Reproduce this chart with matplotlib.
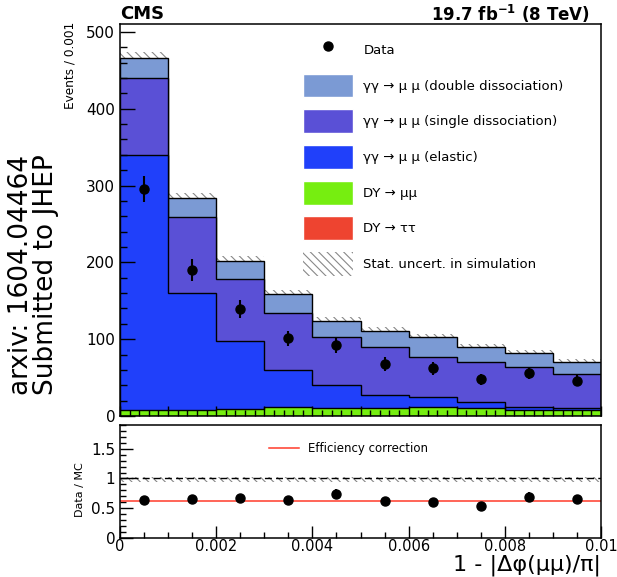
import numpy as np
import matplotlib
matplotlib.use('Agg')
import matplotlib.pyplot as plt
from matplotlib.patches import Patch
from matplotlib.lines import Line2D
from matplotlib.ticker import MultipleLocator

plt.rcParams['font.family'] = ['DejaVu Sans']
plt.rcParams['hatch.linewidth'] = 0.8
plt.rcParams['mathtext.default'] = 'regular'

# Binning (1 - |dphi|/pi)
edges = [0.0, 0.001, 0.002, 0.003, 0.004, 0.005, 0.006, 0.007, 0.008, 0.009, 0.010]
centers = [0.0005, 0.0015, 0.0025, 0.0035, 0.0045, 0.0055, 0.0065, 0.0075, 0.0085, 0.0095]

# MC components (events / 0.001)
dy_tautau = [0.3, 0.3, 0.3, 0.3, 0.3, 0.3, 0.3, 0.3, 0.3, 0.3]
dy_mumu = [8, 8, 9, 12, 10, 10, 12, 10, 7, 7]
elastic = [332, 152, 88, 47, 30, 17, 12, 8, 5, 2.5]
single_diss = [100, 99, 81, 75, 63, 62, 53, 52, 52, 45]
double_diss = [26, 25, 24, 25, 21, 21, 25, 20, 18, 16]
mc_stat = [7, 6, 6, 5, 5, 5, 5, 4, 4, 4]

# Data
data = [296, 190, 139, 101, 92, 68, 62, 48, 56, 46]
data_err = [17, 14, 12, 10, 10, 9, 8, 7, 8, 7]

# Ratio panel
ratio = [0.63, 0.66, 0.68, 0.64, 0.745, 0.627, 0.61, 0.53, 0.69, 0.655]
ratio_err = [0.04, 0.04, 0.05, 0.05, 0.08, 0.06, 0.06, 0.06, 0.08, 0.07]
eff_corr = 0.615
ratio_band = [-0.06, 0.03]

col_double = '#7b9ad4'
col_single = '#5a50d6'
col_elastic = '#2040fa'
col_dymm = '#76ee10'
col_dytt = '#ee4430'

fig = plt.figure(figsize=(6.17, 5.77), dpi=100)
ax = fig.add_axes([0.1945, 0.279, 0.7796, 0.679])
rax = fig.add_axes([0.1945, 0.0676, 0.7796, 0.196])

# Stack (cumulative, drawn from top down)
c1 = np.array(dy_tautau, dtype=float)
c2 = c1 + np.array(dy_mumu)
c3 = c2 + np.array(elastic)
c4 = c3 + np.array(single_diss)
c5 = c4 + np.array(double_diss)
err = np.array(mc_stat, dtype=float)

ax.stairs(c5 + err, edges, baseline=c5 - err, fill=True, facecolor='none',
          edgecolor='#888888', hatch='\\\\\\\\', linewidth=0, zorder=0.5)
for cum, col in [(c5, col_double), (c4, col_single), (c3, col_elastic),
                 (c2, col_dymm), (c1, col_dytt)]:
    ax.stairs(cum, edges, fill=True, facecolor=col, edgecolor='black', linewidth=1.0, zorder=1)

ax.errorbar(centers, data, yerr=data_err, fmt='o', color='black', markersize=6.5,
            elinewidth=1.5, capsize=0, zorder=3)

ax.set_xlim(0, 0.01)
ax.set_ylim(0, 510)
ax.yaxis.set_major_locator(MultipleLocator(100))
ax.yaxis.set_minor_locator(MultipleLocator(20))
ax.xaxis.set_major_locator(MultipleLocator(0.001))
ax.xaxis.set_minor_locator(MultipleLocator(0.0002))
ax.tick_params(axis='both', which='both', direction='in', top=False, right=False)
ax.tick_params(axis='y', which='major', length=11, width=1.0, labelsize=11)
ax.tick_params(axis='y', which='minor', length=5, width=1.0)
ax.tick_params(axis='x', which='major', length=7, width=1.0, labelbottom=False)
ax.tick_params(axis='x', which='minor', length=4, width=1.0)
for s in ax.spines.values():
    s.set_linewidth(1.1)

handles = [
    Line2D([], [], marker='o', color='black', linestyle='none', markersize=6.5),
    Patch(facecolor=col_double, edgecolor='white'),
    Patch(facecolor=col_single, edgecolor='white'),
    Patch(facecolor=col_elastic, edgecolor='white'),
    Patch(facecolor=col_dymm, edgecolor='white'),
    Patch(facecolor=col_dytt, edgecolor='white'),
    Patch(facecolor='white', edgecolor='#888888', hatch='\\\\\\\\', linewidth=0),
]
labels = [
    'Data',
    'γγ → μ μ (double dissociation)',
    'γγ → μ μ (single dissociation)',
    'γγ → μ μ (elastic)',
    'DY → μμ',
    'DY → ττ',
    'Stat. uncert. in simulation',
]
ax.legend(handles, labels, loc='upper left', bbox_to_anchor=(0.38, 0.965),
          frameon=False, fontsize=9.5, handlelength=3.8, handleheight=2.4,
          labelspacing=0.9, handletextpad=0.8, borderpad=0, borderaxespad=0)

fig.text(0.1945, 1 - 14 / 577, 'CMS', fontsize=13, fontweight='bold', ha='left', va='center')
fig.text(590 / 617, 1 - 14 / 577, '19.7 fb$^{-1}$ (8 TeV)', fontsize=12,
         fontweight='bold', ha='right', va='center')
fig.text(70 / 617, 1 - 22 / 577, 'Events / 0.001', rotation=90, fontsize=8.7,
         ha='center', va='top')
fig.text(34 / 617, 1 - 395 / 577, 'arxiv: 1604.04464\nSubmitted to JHEP', rotation=90,
         fontsize=19, ha='center', va='bottom', multialignment='left', linespacing=0.95)

# Ratio panel
rax.stairs(1 + np.full(10, ratio_band[1]), edges, baseline=1 + np.full(10, ratio_band[0]),
           fill=True, facecolor='none', edgecolor='#888888', hatch='\\\\\\\\', linewidth=0)
rax.axhline(1.0, color='black', linestyle='--', linewidth=1.0, dashes=(5, 3))
rax.axhline(eff_corr, color='#ff3a2a', linewidth=1.1, label='Efficiency correction')
rax.errorbar(centers, ratio, yerr=ratio_err, fmt='o', color='black', markersize=6.5,
             elinewidth=1.5, capsize=0, zorder=3)
rax.set_xlim(0, 0.01)
rax.set_ylim(0, 1.9)
rax.yaxis.set_minor_locator(MultipleLocator(0.1))
rax.xaxis.set_minor_locator(MultipleLocator(0.0005))
rax.set_yticks([0, 0.5, 1, 1.5])
rax.set_yticklabels(['0', '0.5', '1', '1.5'])
rax.set_xticks([0, 0.002, 0.004, 0.006, 0.008, 0.01])
rax.set_xticklabels(['0', '0.002', '0.004', '0.006', '0.008', '0.01'])
rax.tick_params(axis='both', which='both', direction='in', top=False, right=False)
rax.tick_params(axis='both', which='major', length=9, width=1.0, labelsize=11)
rax.tick_params(axis='x', which='major', labelsize=10.5, pad=1)
rax.tick_params(axis='both', which='minor', length=4, width=1.0)
for s in rax.spines.values():
    s.set_linewidth(1.1)
rax.legend(loc='upper left', bbox_to_anchor=(0.31, 0.845), frameon=False, fontsize=8.5,
           handlelength=2.5, borderpad=0, borderaxespad=0)

fig.text(80 / 617, 1 - 490 / 577, 'Data / MC', rotation=90, fontsize=8, ha='center', va='center')
fig.text(601 / 617, 1 / 577, '1 - |Δφ(μμ)/π|', fontsize=16, ha='right', va='bottom')

fig.savefig('out.png', dpi=100)
